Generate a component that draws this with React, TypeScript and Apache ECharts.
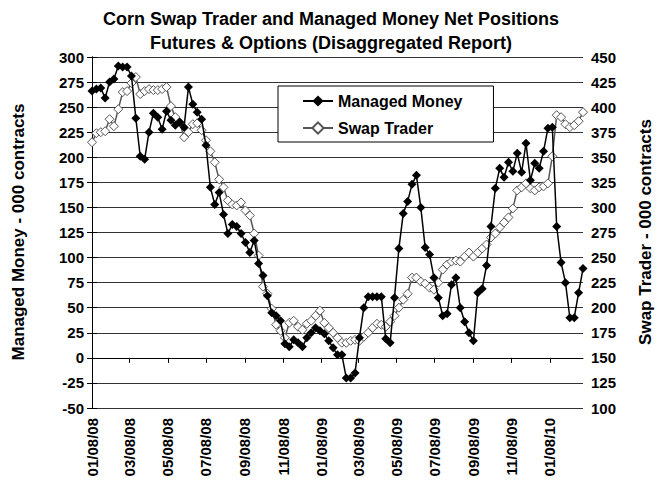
import React, { useEffect, useRef } from "react";
import * as echarts from "echarts";

const FONT = '"Liberation Sans", Arial, sans-serif';
const DAY = 86400000;

// Weekly report dates (Tuesdays) starting 01/08/08
const firstDate = Date.UTC(2008, 0, 8);
const weekCount = 113;
// x position of each report = days since the first report
const weekDays: number[] = Array.from({ length: weekCount }, (_, i) => 7 * i);

const tickLabels = [
  "01/08/08", "03/08/08", "05/08/08", "07/08/08", "09/08/08", "11/08/08",
  "01/08/09", "03/08/09", "05/08/09", "07/08/09", "09/08/09", "11/08/09", "01/08/10",
];

const managedMoney = [
  266, 268, 269, 259, 275, 278, 291, 290, 290, 281,
  239, 201, 198, 225, 244, 240, 228, 246, 237, 232,
  235, 230, 270, 253, 245, 238, 212, 170, 153, 165,
  143, 124, 133, 131, 124, 115, 105, 117, 94, 82,
  62, 45, 42, 37, 14, 11, 18, 15, 11, 20,
  25, 30, 27, 24, 17, 10, 3, 3, -20, -20,
  -15, 20, 50, 61, 61, 61, 61, 19, 15, 60,
  109, 144, 156, 173, 182, 150, 110, 103, 80, 60,
  42, 44, 73, 80, 50, 36, 25, 17, 65, 69,
  92, 131, 169, 189, 180, 195, 186, 204, 185, 214,
  177, 194, 189, 206, 229, 230, 131, 95, 75, 40,
  40, 65, 89,
];

const swapTrader = [
  365, 374, 375, 376, 388, 381, 398, 415, 416, 424,
  430, 413, 416, 418, 417, 417, 418, 420, 401, 390,
  385, 370, 375, 383, 384, 377, 367, 356, 345, 328,
  320, 307, 303, 302, 305, 297, 292, 274, 252, 221,
  214, 199, 183, 177, 170, 185, 187, 181, 178, 184,
  187, 192, 197, 185, 180, 175, 170, 165, 165, 167,
  168, 167, 171, 175, 180, 184, 183, 181, 186, 192,
  200, 208, 214, 230, 230, 226, 224, 220, 218, 225,
  238, 243, 246, 247, 246, 251, 255, 251, 255, 259,
  263, 270, 274, 280, 285, 290, 299, 317, 320, 324,
  319, 317, 320, 321, 324, 351, 392, 390, 383, 380,
  382, 386, 395,
];

const parseLabel = (s: string) => {
  const [mm, dd, yy] = s.split("/").map(Number);
  return Math.round((Date.UTC(2000 + yy, mm - 1, dd) - firstDate) / DAY);
};
const tickValues = tickLabels.map(parseLabel);

const pad = (n: number) => (n < 10 ? "0" + n : "" + n);
const fmtDay = (v: number) => {
  const d = new Date(firstDate + Math.round(v) * DAY);
  return pad(d.getUTCMonth() + 1) + "/" + pad(d.getUTCDate()) + "/" + pad(d.getUTCFullYear() % 100);
};

export default function App() {
  const ref = useRef<HTMLDivElement>(null);
  useEffect(() => {
    if (!ref.current) return;
    const chart = echarts.init(ref.current, null, { renderer: "svg" });
    const axisText = { color: "#000", fontWeight: "bold" as const, fontSize: 15, fontFamily: FONT };
    const xMax = weekDays[weekDays.length - 1];
    chart.setOption({
      animation: false,
      backgroundColor: "#fff",
      title: {
        text: "Corn Swap Trader and Managed Money Net Positions\nFutures & Options (Disaggregated Report)",
        left: "center",
        top: 2,
        textStyle: { color: "#000", fontWeight: "bold", fontSize: 18, lineHeight: 24, fontFamily: FONT },
      },
      grid: { left: 92, right: 79, top: 57, bottom: 84, containLabel: false },
      legend: {
        data: ["Managed Money", "Swap Trader"],
        orient: "vertical",
        left: 278,
        top: 86,
        itemWidth: 30,
        itemHeight: 14,
        itemGap: 11,
        padding: [7, 31, 6, 24],
        backgroundColor: "#fff",
        borderColor: "#000",
        borderWidth: 1,
        textStyle: { color: "#000", fontWeight: "bold", fontSize: 16, fontFamily: FONT },
      },
      xAxis: [
        {
          type: "value",
          min: 0,
          max: xMax,
          position: "bottom",
          axisLine: { show: true, onZero: true, onZeroAxisIndex: 0, lineStyle: { color: "#000", width: 1 } },
          axisTick: { show: true, customValues: tickValues, length: 5, inside: false, lineStyle: { color: "#000" } },
          axisLabel: { show: false, customValues: tickValues },
          splitLine: { show: false },
        },
        {
          type: "value",
          min: 0,
          max: xMax,
          position: "bottom",
          axisLine: { show: false, onZero: false },
          axisTick: { show: false },
          axisLabel: {
            show: true,
            customValues: tickValues,
            rotate: 90,
            margin: 10,
            formatter: (v: number) => fmtDay(v),
            ...axisText,
          },
          splitLine: { show: false },
        },
      ],
      yAxis: [
        {
          type: "value",
          min: -50,
          max: 300,
          interval: 25,
          position: "left",
          axisLine: { show: true, lineStyle: { color: "#000", width: 1 } },
          axisTick: { show: true, length: 5, inside: false, lineStyle: { color: "#000" } },
          axisLabel: { margin: 8, ...axisText },
          splitLine: { show: true, lineStyle: { color: "#333", width: 1 } },
        },
        {
          type: "value",
          min: 100,
          max: 450,
          interval: 25,
          position: "right",
          axisLine: { show: true, lineStyle: { color: "#000", width: 1 } },
          axisTick: { show: true, length: 5, inside: false, lineStyle: { color: "#000" } },
          axisLabel: { margin: 8, ...axisText },
          splitLine: { show: false },
        },
      ],
      graphic: [
        {
          type: "text",
          x: 18,
          y: 232,
          rotation: Math.PI / 2,
          style: {
            text: "Managed Money - 000 contracts",
            font: `bold 17px ${FONT}`,
            fill: "#000",
            align: "center",
            verticalAlign: "middle",
          },
        },
        {
          type: "text",
          x: 645,
          y: 232,
          rotation: Math.PI / 2,
          style: {
            text: "Swap Trader - 000 contracts",
            font: `bold 17px ${FONT}`,
            fill: "#000",
            align: "center",
            verticalAlign: "middle",
          },
        },
      ],
      series: [
        {
          name: "Swap Trader",
          type: "line",
          xAxisIndex: 0,
          yAxisIndex: 1,
          data: weekDays.map((d, i) => [d, swapTrader[i]]),
          symbol: "diamond",
          symbolSize: 9,
          itemStyle: { color: "#fff", borderColor: "#555", borderWidth: 1 },
          lineStyle: { color: "#555", width: 1.5 },
          z: 2,
        },
        {
          name: "Managed Money",
          type: "line",
          xAxisIndex: 0,
          yAxisIndex: 0,
          data: weekDays.map((d, i) => [d, managedMoney[i]]),
          symbol: "diamond",
          symbolSize: 9,
          itemStyle: { color: "#000" },
          lineStyle: { color: "#000", width: 1.5 },
          z: 3,
        },
      ],
    });
    return () => chart.dispose();
  }, []);
  return (
    <div
      ref={ref}
      style={{ position: "absolute", left: 0, top: 0, width: 662, height: 492 }}
    />
  );
}
